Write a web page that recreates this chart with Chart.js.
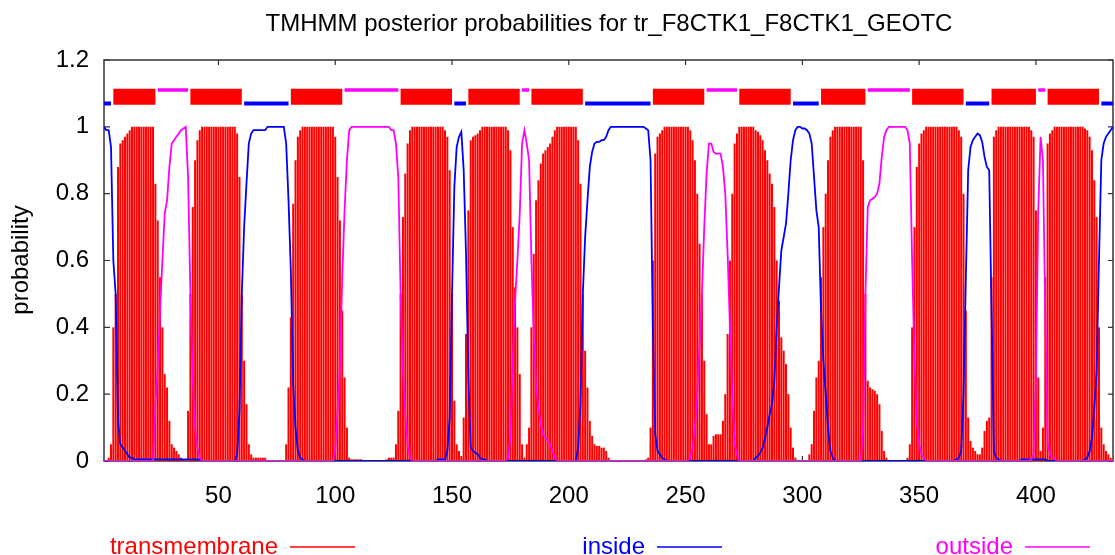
<!DOCTYPE html>
<html><head><meta charset="utf-8">
<script src="https://cdn.jsdelivr.net/npm/chart.js@4.4.1/dist/chart.umd.min.js"></script>
<style>html,body{margin:0;padding:0;background:#fff;overflow:hidden}#wrap{width:1115px;height:555px}</style>
</head><body><div id="wrap"><canvas id="c" width="1115" height="555"></canvas></div>
<script>
const titleText = 'TMHMM posterior probabilities for tr_F8CTK1_F8CTK1_GEOTC';
const yAxisLabel = 'probability';
const seriesNames = ['transmembrane', 'inside', 'outside'];
const seqLength = 433;
const xTicks = [50, 100, 150, 200, 250, 300, 350, 400];
const yTicks = [0, 0.2, 0.4, 0.6, 0.8, 1, 1.2];
const yTickLabels = ['0', '0.2', '0.4', '0.6', '0.8', '1', '1.2'];

// posterior probability per residue (1..433)
const transmembrane = [
0,0,.01,.05,.4,.5,.88,.95,.96,.97,
.98,.99,1,1,1,1,1,1,1,1,
1,1,.83,.72,.55,.4,.26,.22,.12,.05,
.04,.03,.02,.01,.005,0,.15,.5,.76,.9,
.96,.99,1,1,1,1,1,1,1,1,
1,1,1,1,1,1,1,.98,.85,.5,
.3,.17,.05,.02,.01,.01,.01,.01,.01,.01,
0,0,0,0,0,0,0,0,.05,.22,
.43,.77,.9,.97,.99,1,1,1,1,1,
1,1,1,1,1,1,1,1,1,.97,
.85,.72,.45,.25,.1,.01,.005,.005,.005,.005,
.005,0,0,0,0,0,0,0,0,0,
0,.005,.01,.01,.01,.05,.15,.5,.73,.86,
.95,.99,1,1,1,1,1,1,1,1,
1,1,1,1,1,1,.99,.97,.87,.5,
.18,.05,.03,.015,.13,.38,.75,.96,.97,.975,
.98,.99,1,1,1,1,1,1,1,1,
1,1,1,.99,.93,.7,.52,.4,.26,.05,
.01,.05,.1,.4,.62,.78,.84,.89,.92,.93,
.94,.95,.97,.99,1,1,1,1,1,1,
1,1,1,.96,.83,.5,.33,.22,.12,.075,
.05,.045,.045,.04,.04,.03,.01,0,0,0,
0,0,0,0,0,0,0,0,0,0,
0,0,.005,.01,.1,.6,.92,.97,.98,.99,
1,1,1,1,1,1,1,1,1,1,
1,.99,.96,.9,.8,.65,.5,.3,.14,.05,
.05,.075,.08,.08,.08,.12,.2,.38,.6,.8,
.95,.98,1,1,1,1,1,1,1,.99,
.985,.975,.96,.93,.9,.86,.83,.76,.6,.48,
.37,.33,.29,.2,.1,.04,.01,0,0,0,
0,0,.02,.05,.15,.25,.3,.55,.7,.8,
.9,.97,.99,1,1,1,1,1,1,1,
1,1,1,1,1,.9,.5,.24,.22,.215,
.21,.2,.17,.09,.03,.01,0,0,0,0,
0,0,0,0,.01,.05,.4,.7,.88,.95,
.98,.99,1,1,1,1,1,1,1,1,
1,1,1,1,1,1,.99,.97,.8,.45,
.13,.06,.04,.03,.02,.02,.04,.09,.12,.13,
.55,.97,.99,1,1,1,1,1,1,1,
1,1,1,1,1,1,1,.99,.97,.75,
.25,.03,.1,.55,.95,.98,.99,1,1,1,
1,1,1,1,1,1,1,1,1,1,
.995,.99,.97,.93,.84,.73,.4,.1,.05,.03,
.02,.01,0
];
const inside = [
1,.99,.99,.94,.6,.5,.12,.05,.04,.03,
.02,.01,.01,.005,.005,.005,.005,.005,.005,.005,
.005,.005,.005,.005,.005,.005,.005,.005,.005,.005,
.005,.005,.005,.005,.005,.005,.005,.005,.005,.005,
.005,.005,0,0,0,0,0,0,0,0,
0,0,0,0,0,0,0,.02,.15,.5,
.7,.83,.95,.98,.99,.99,.99,.99,.99,.99,
1,1,1,1,1,1,1,1,.95,.78,
.57,.23,.1,.03,.01,.005,0,0,0,0,
0,0,0,0,0,0,0,0,0,0,
0,0,0,0,0,0,0,0,0,0,
0,0,0,0,0,0,0,0,0,0,
0,0,0,0,0,0,0,0,0,0,
0,0,0,0,0,0,0,0,0,0,
0,0,0,.005,.005,.005,.005,.03,.13,.5,
.82,.94,.97,.985,.87,.62,.25,.04,.03,.025,
.02,.01,.005,.005,0,0,0,0,0,0,
0,0,0,0,0,0,0,0,0,0,
0,0,0,0,0,0,0,0,0,0,
0,0,0,0,0,0,0,0,0,0,
0,0,0,.04,.17,.5,.67,.78,.88,.925,
.95,.955,.955,.96,.96,.97,.99,1,1,1,
1,1,1,1,1,1,1,1,1,1,
1,1,.995,.99,.9,.4,.08,.03,.02,.01,
.005,0,0,0,0,0,0,0,0,0,
0,0,0,0,0,0,0,0,0,0,
0,0,0,0,0,0,0,0,0,0,
0,0,0,0,0,0,0,0,0,.01,
.015,.025,.04,.07,.1,.14,.17,.24,.4,.52,
.63,.67,.71,.8,.9,.96,.99,1,1,.995,
.995,.99,.98,.95,.85,.75,.7,.45,.3,.2,
.1,.03,.01,0,0,0,0,0,0,0,
0,0,0,0,0,0,0,0,0,0,
0,0,0,0,0,0,0,0,0,0,
0,0,0,0,0,0,0,0,0,0,
0,0,0,0,0,0,0,0,0,0,
0,0,0,0,0,.005,.01,.03,.2,.55,
.87,.94,.96,.97,.98,.975,.955,.91,.88,.87,
.45,.03,.01,.005,0,0,0,0,0,0,
0,0,0,.005,.005,.005,.005,.005,.005,.005,
.005,.005,.005,.005,0,0,0,0,0,0,
0,0,0,0,0,0,0,0,0,0,
.005,.01,.03,.07,.16,.27,.6,.9,.95,.97,
.98,.99,1
];
const outside = [
0,0,0,0,0,0,0,0,0,0,
0,0,0,0,0,0,0,0,0,0,
0,0,.17,.28,.45,.6,.74,.78,.88,.95,
.96,.97,.98,.99,.995,1,.85,.5,.24,.1,
.04,.01,0,0,0,0,0,0,0,0,
0,0,0,0,0,0,0,0,0,0,
0,0,0,0,0,0,0,0,0,0,
0,0,0,0,0,0,0,0,0,0,
0,0,0,0,0,0,0,0,0,0,
0,0,0,0,0,0,0,0,0,.03,
.15,.28,.55,.75,.9,.99,1,1,1,1,
1,1,1,1,1,1,1,1,1,1,
1,1,1,.99,.99,.95,.85,.5,.27,.14,
.05,.01,0,0,0,0,0,0,0,0,
0,0,0,0,0,0,0,0,0,0,
0,0,0,0,0,0,0,0,0,0,
0,0,0,0,0,0,0,0,0,0,
0,0,0,.01,.07,.3,.48,.6,.74,.95,
.99,.95,.9,.6,.38,.22,.16,.11,.08,.07,
.06,.05,.03,.01,0,0,0,0,0,0,
0,0,0,0,0,0,0,0,0,0,
0,0,0,0,0,0,0,0,0,0,
0,0,0,0,0,0,0,0,0,0,
0,0,0,0,0,0,0,0,0,0,
0,0,0,0,0,0,0,0,0,0,
0,.01,.04,.1,.2,.35,.5,.7,.86,.95,
.95,.925,.92,.92,.92,.88,.8,.62,.4,.2,
.05,.02,0,0,0,0,0,0,0,0,
0,0,0,0,0,0,0,0,0,0,
0,0,0,0,0,0,0,0,0,0,
0,0,0,0,0,0,0,0,0,0,
0,0,0,0,0,0,0,0,0,0,
0,0,0,0,0,.1,.5,.76,.78,.785,
.79,.8,.83,.91,.97,.99,1,1,1,1,
1,1,1,1,.99,.95,.6,.3,.12,.05,
.02,.01,0,0,0,0,0,0,0,0,
0,0,0,0,0,0,0,0,0,0,
0,0,0,0,0,0,0,0,0,0,
0,0,0,0,0,0,0,0,0,0,
0,0,0,0,0,0,0,.005,.02,.25,
.75,.97,.9,.45,.05,.02,.01,.005,0,0,
0,0,0,0,0,0,0,0,0,0,
0,0,0,0,0,0,0,0,0,0,
0,0,0
];

// predicted topology (residue ranges)
const insideSegments = [[1,4],[61,80],[151,156],[207,235],[296,307],[370,380],[428,433]];
const tmSegments = [[5,23],[38,60],[81,103],[128,150],[157,179],[184,206],[236,258],[273,295],[308,327],[347,369],[381,400],[405,427]];
const outsideSegments = [[24,37],[104,127],[180,183],[259,272],[328,346],[401,404]];
const insideLevel = 1.07, tmLevel = 1.09, outsideLevel = 1.11;

const RED = '#ff0000', BLUE = '#0000ff', MAG = '#ff00ff';
const FONT = '"Liberation Sans", Arial, Helvetica, sans-serif';
const FS = 24;

const residues = transmembrane.map((_, i) => i + 1);
const toXY = arr => arr.map((v, i) => ({x: residues[i], y: v}));
const segData = (segs, level) => {
  const out = [];
  segs.forEach(([a, b], k) => {
    if (k) out.push({x: a - 0.5, y: null});
    out.push({x: a, y: level}, {x: b, y: level});
  });
  return out;
};

const frame = {
  id: 'frame',
  beforeDatasetsDraw(chart) {
    const {ctx, chartArea: a, scales: {x, y}} = chart;
    ctx.save();
    ctx.strokeStyle = '#333';
    ctx.lineWidth = 1.5;
    ctx.strokeRect(a.left, a.top, a.right - a.left, a.bottom - a.top);
    ctx.lineWidth = 1.2;
    ctx.beginPath();
    yTicks.forEach(v => {
      const p = y.getPixelForValue(v);
      ctx.moveTo(a.left, p); ctx.lineTo(a.left + 6, p);
      ctx.moveTo(a.right, p); ctx.lineTo(a.right - 5, p);
    });
    xTicks.forEach(v => {
      const p = x.getPixelForValue(v);
      ctx.moveTo(p, a.bottom); ctx.lineTo(p, a.bottom - 5);
      ctx.moveTo(p, a.top); ctx.lineTo(p, a.top + 5);
    });
    ctx.stroke();
    ctx.restore();
  },
  afterDraw(chart) {
    const {ctx} = chart;
    ctx.save();
    ctx.font = FS + 'px ' + FONT;
    ctx.fillStyle = '#000';
    ctx.textAlign = 'center';
    ctx.textBaseline = 'alphabetic';
    ctx.fillText(titleText, 609, 31);
    ctx.save();
    ctx.translate(28, 260);
    ctx.rotate(-Math.PI / 2);
    ctx.fillText(yAxisLabel, 0, 0);
    ctx.restore();
    const legend = [
      {name: seriesNames[0], color: RED, x0: 290, x1: 355},
      {name: seriesNames[1], color: BLUE, x0: 657, x1: 722},
      {name: seriesNames[2], color: MAG, x0: 1025, x1: 1090}
    ];
    legend.forEach(l => {
      ctx.fillStyle = l.color;
      ctx.textAlign = 'right';
      ctx.fillText(l.name, l.x0 - 12, 554);
      ctx.strokeStyle = l.color;
      ctx.lineWidth = 1.6;
      ctx.beginPath();
      ctx.moveTo(l.x0, 547); ctx.lineTo(l.x1, 547);
      ctx.stroke();
    });
    ctx.restore();
  }
};

new Chart(document.getElementById('c'), {
  type: 'line',
  data: {
    datasets: [
      {label: seriesNames[2], data: toXY(outside), borderColor: MAG, borderWidth: 1.8, pointRadius: 0, fill: false, tension: 0, order: 0},
      {label: seriesNames[1], data: toXY(inside), borderColor: BLUE, borderWidth: 1.8, pointRadius: 0, fill: false, tension: 0, order: 1},
      {type: 'bar', label: seriesNames[0], data: toXY(transmembrane), backgroundColor: RED, borderWidth: 0, barPercentage: 0.86, categoryPercentage: 1, order: 2},
      {label: 'tm-topology', data: segData(tmSegments, tmLevel), borderColor: RED, borderWidth: 16, borderCapStyle: 'butt', pointRadius: 0, spanGaps: false, order: 3},
      {label: 'in-topology', data: segData(insideSegments, insideLevel), borderColor: BLUE, borderWidth: 4, borderCapStyle: 'butt', pointRadius: 0, spanGaps: false, order: 3},
      {label: 'out-topology', data: segData(outsideSegments, outsideLevel), borderColor: MAG, borderWidth: 3.5, borderCapStyle: 'butt', pointRadius: 0, spanGaps: false, order: 3}
    ]
  },
  options: {
    responsive: false,
    animation: false,
    devicePixelRatio: 1,
    layout: {padding: {left: 0, right: 2, top: 60, bottom: 0}},
    plugins: {legend: {display: false}, tooltip: {enabled: false}, title: {display: false}},
    scales: {
      x: {
        type: 'linear', min: 1, max: seqLength, offset: false,
        grid: {display: false, drawTicks: false}, border: {display: false},
        ticks: {font: {family: FONT, size: FS}, color: '#000', padding: 21, maxRotation: 0, autoSkip: false,
                callback: (v, i) => String(xTicks[i])},
        afterBuildTicks: s => { s.ticks = xTicks.map(v => ({value: v})); },
        afterFit: s => { s.height = 94; }
      },
      y: {
        type: 'linear', min: 0, max: 1.2,
        grid: {display: false, drawTicks: false}, border: {display: false},
        ticks: {font: {family: FONT, size: FS}, color: '#000', padding: 15,
                callback: (v, i) => yTickLabels[i]},
        afterBuildTicks: s => { s.ticks = yTicks.map(v => ({value: v})); },
        afterFit: s => { s.width = 104; }
      }
    }
  },
  plugins: [frame]
});
</script></body></html>
